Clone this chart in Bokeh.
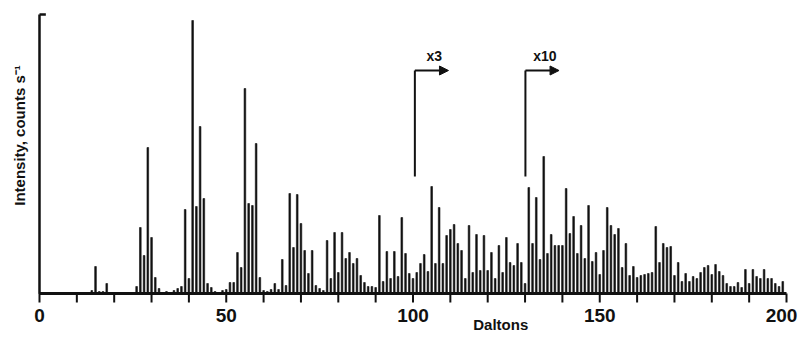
import numpy as np
from bokeh.plotting import figure
from bokeh.models import Range1d, Arrow, NormalHead, ColumnDataSource
from bokeh.embed import file_html
from bokeh.resources import INLINE
from bokeh.core.properties import value

# ---- data (mass in Daltons, displayed intensity in arbitrary units) ----
masses = list(range(0, 200))
intensity = [
    0, 0, 0, 0, 0, 0, 0, 0, 0, 0,            # 0-9
    0, 0, 1, 1, 3, 27, 2, 2, 10, 1,          # 10-19
    0, 0, 0, 0, 0, 1, 7, 66, 38, 146,        # 20-29
    56, 16, 5, 1, 2, 1, 3, 5, 7, 84,         # 30-39
    15, 273, 87, 167, 95, 10, 6, 2, 1, 3,    # 40-49
    4, 11, 11, 41, 26, 205, 90, 88, 150, 16, # 50-59
    3, 2, 4, 10, 4, 34, 8, 100, 46, 99,      # 60-69
    70, 43, 20, 43, 8, 5, 3, 53, 15, 61,     # 70-79
    21, 61, 35, 41, 30, 35, 18, 11, 7, 7,    # 80-89
    6, 78, 12, 42, 15, 42, 17, 76, 40, 20,   # 90-99
    15, 21, 30, 39, 22, 107, 30, 86, 30, 58, # 100-109
    64, 69, 50, 43, 15, 68, 21, 59, 23, 58,  # 110-119
    23, 41, 15, 48, 21, 56, 31, 28, 50, 31,  # 120-129
    10, 106, 50, 96, 34, 137, 40, 59, 48, 48,# 130-139
    48, 105, 60, 77, 40, 68, 35, 88, 32, 41, # 140-149
    19, 43, 86, 68, 59, 65, 26, 50, 18, 27,  # 150-159
    16, 18, 19, 20, 21, 67, 31, 50, 46, 47,  # 160-169
    18, 31, 12, 20, 12, 17, 15, 21, 26, 28,  # 170-179
    19, 29, 22, 18, 10, 7, 7, 11, 6, 24,     # 180-189
    10, 24, 17, 15, 24, 15, 15, 10, 7, 12,   # 190-199
]
major_ticks = [0, 50, 100, 150, 200]
major_tick_labels = ["0", "50", "100", "150", "200"]
minor_ticks = list(range(0, 201, 10))
x_axis_end = 200
y_axis_top = 279
gain_marks = [100.5, 130.1]          # mass where the amplification starts
gain_labels = ["x3", "x10"]
gain_low, gain_high = 117, 223       # vertical extent of the bracket
gain_arrow_len = 9.0

FONT = "Liberation Sans"
INK = "#111111"

# the frame fills the whole canvas; axes are drawn by hand
p = figure(width=799, height=333, output_backend="svg", toolbar_location=None,
           x_range=Range1d(-10.44, 203.48), y_range=Range1d(-40, 293),
           min_border=0)
p.axis.visible = False
p.outline_line_color = None
p.xgrid.visible = False
p.ygrid.visible = False
p.background_fill_color = "white"
p.border_fill_color = "white"

src = ColumnDataSource(dict(m=masses, h=intensity))
p.vbar(x="m", top="h", bottom=0, width=0.45, source=src,
       fill_color=INK, line_color=INK, line_width=0.6)

# x axis line, ticks and labels
p.segment(x0=[0], y0=[0], x1=[x_axis_end], y1=[0], line_width=3, line_color=INK)
p.segment(x0=minor_ticks, y0=[0] * len(minor_ticks), x1=minor_ticks,
          y1=[-9] * len(minor_ticks), line_width=2, line_color=INK)
label_shift = [0, 0, 0, 0, -5]       # keep the last label inside the canvas
p.text(x=major_ticks, y=[-22] * len(major_ticks), text=major_tick_labels,
       x_offset=label_shift,
       text_align="center", text_baseline="middle",
       text_font=value(FONT), text_font_style="bold",
       text_font_size="19px", text_color=INK)

# y axis line with small bracket at the top
p.segment(x0=[0], y0=[0], x1=[0], y1=[y_axis_top], line_width=2.5, line_color=INK)
p.segment(x0=[0], y0=[y_axis_top], x1=[1.7], y1=[y_axis_top], line_width=2.5,
          line_color=INK)

# axis titles
p.text(x=[-5.35], y=[158], text=["Intensity, counts s⁻¹"], angle=np.pi / 2,
       text_align="center", text_baseline="middle",
       text_font=value(FONT), text_font_style="bold",
       text_font_size="15px", text_color=INK)
p.text(x=[123.5], y=[-31], text=["Daltons"],
       text_align="center", text_baseline="middle",
       text_font=value(FONT), text_font_style="bold",
       text_font_size="15px", text_color=INK)

# amplification brackets
p.segment(x0=gain_marks, y0=[gain_low] * len(gain_marks),
          x1=gain_marks, y1=[gain_high] * len(gain_marks),
          line_width=2, line_color=INK)
for m in gain_marks:
    p.add_layout(Arrow(x_start=m, y_start=gain_high, x_end=m + gain_arrow_len,
                       y_end=gain_high, line_width=2, line_color=INK,
                       end=NormalHead(size=9, fill_color=INK, line_color=INK)))
p.text(x=[m + 5.2 for m in gain_marks], y=[238] * len(gain_marks), text=gain_labels,
       text_align="center", text_baseline="middle",
       text_font=value(FONT), text_font_style="bold",
       text_font_size="14px", text_color=INK)

open("out.html", "w").write(file_html(p, INLINE))
